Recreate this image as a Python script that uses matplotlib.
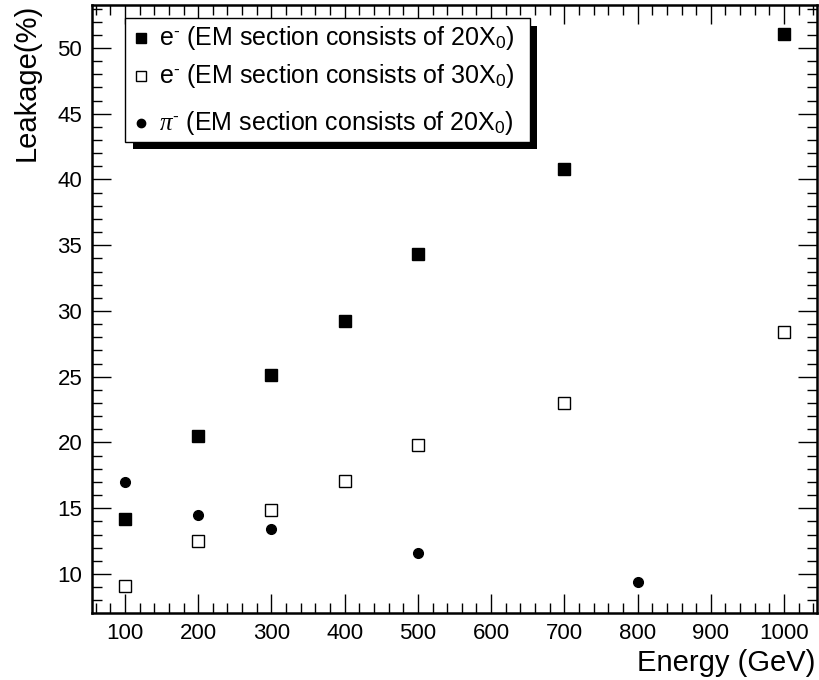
import matplotlib
matplotlib.use("Agg")
import matplotlib.pyplot as plt
from matplotlib.patches import Rectangle
from matplotlib.lines import Line2D
from matplotlib.ticker import MultipleLocator

plt.rcParams["font.family"] = ["Liberation Sans", "DejaVu Sans"]
plt.rcParams["mathtext.fontset"] = "custom"
plt.rcParams["mathtext.rm"] = "Liberation Sans"
plt.rcParams["mathtext.it"] = "Liberation Serif:italic"

# data
e20_energy = [100, 200, 300, 400, 500, 700, 1000]
e20_leak = [14.2, 20.5, 25.1, 29.2, 34.3, 40.8, 51.1]

e30_energy = [100, 200, 300, 400, 500, 700, 1000]
e30_leak = [9.1, 12.5, 14.9, 17.1, 19.8, 23.0, 28.4]

pi_energy = [100, 200, 300, 500, 800]
pi_leak = [17.0, 14.5, 13.4, 11.6, 9.4]

legend_labels = [
    r"e$^{\text{-}}$ (EM section consists of 20X$_{\text{0}}$)",
    r"e$^{\text{-}}$ (EM section consists of 30X$_{\text{0}}$)",
    r"$\pi^{\text{-}}$ (EM section consists of 20X$_{\text{0}}$)",
]

W, H = 819, 680
fig = plt.figure(figsize=(W / 100, H / 100), dpi=100)


def fx(x):
    return x / W


def fy(y):
    return 1 - y / H


ax = fig.add_axes([fx(92), fy(613), fx(817) - fx(92), fy(5) - fy(613)])

ax.plot(e20_energy, e20_leak, "s", color="black", markersize=8, linestyle="none")
ax.plot(e30_energy, e30_leak, "s", markerfacecolor="white", markeredgecolor="black",
        markeredgewidth=1.0, markersize=8, linestyle="none")
ax.plot(pi_energy, pi_leak, "o", color="black", markersize=7, linestyle="none")

ax.set_xlim(55, 1045)
ax.set_ylim(7.03, 53.27)

ax.xaxis.set_major_locator(MultipleLocator(100))
ax.xaxis.set_minor_locator(MultipleLocator(20))
ax.yaxis.set_major_locator(MultipleLocator(5))
ax.yaxis.set_minor_locator(MultipleLocator(1))

ax.tick_params(which="both", direction="in", top=True, right=True, width=1.0,
               labelsize=16, pad=7)
ax.tick_params(which="major", length=14)
ax.tick_params(which="minor", length=7)
for sp in ax.spines.values():
    sp.set_linewidth(1.8)

# axis titles placed like ROOT does (flush to the frame ends)
fig.text(fx(815), fy(671), "Energy (GeV)", fontsize=21, ha="right", va="baseline")
fig.text(fx(27), fy(4), "Leakage(%)", fontsize=21, ha="center", va="top", rotation=90)

# ROOT-style legend box with shadow
shadow = Rectangle((fx(133), fy(149)), fx(537) - fx(133), fy(26) - fy(149),
                   transform=fig.transFigure, facecolor="black", edgecolor="none", zorder=5)
box = Rectangle((fx(125), fy(142)), fx(530) - fx(125), fy(18) - fy(142),
                transform=fig.transFigure, facecolor="white", edgecolor="black",
                linewidth=1.0, zorder=6)
fig.add_artist(shadow)
fig.add_artist(box)

rows_y = [38, 76, 123]
styles = [
    dict(marker="s", color="black", markersize=7),
    dict(marker="s", markerfacecolor="white", markeredgecolor="black", markersize=7),
    dict(marker="o", color="black", markersize=6),
]
for yy, lab, st in zip(rows_y, legend_labels, styles):
    fig.add_artist(Line2D([fx(141)], [fy(yy)], transform=fig.transFigure,
                          linestyle="none", zorder=7, **st))
    fig.text(fx(159), fy(yy), lab, fontsize=18, va="center", ha="left", zorder=7)

fig.savefig("out.png", dpi=100, facecolor="white")
